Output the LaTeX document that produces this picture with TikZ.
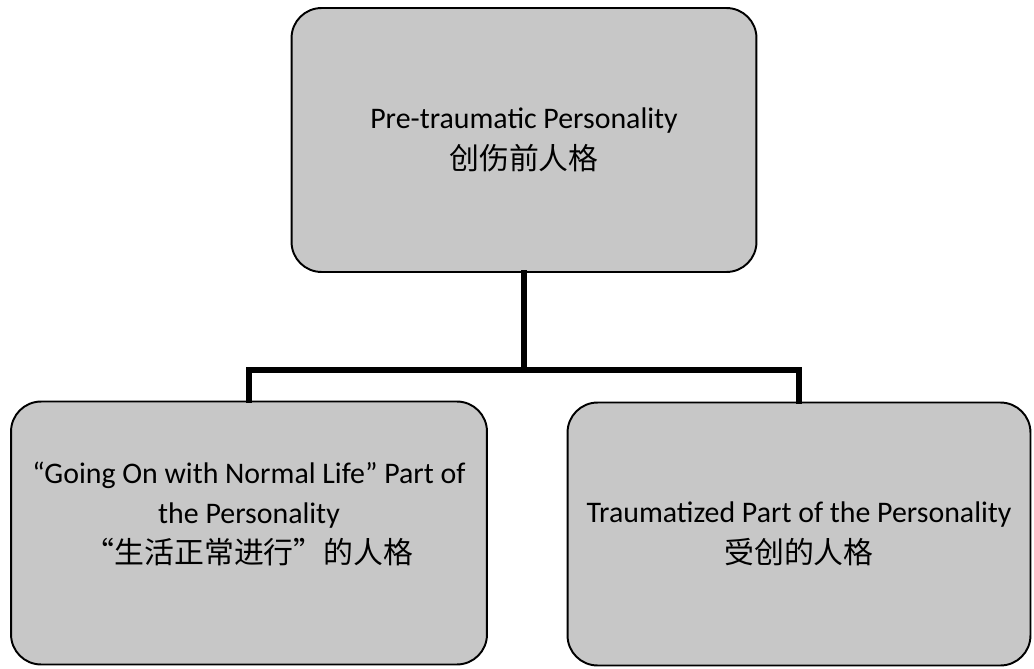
\documentclass[tikz,border=0pt]{standalone}
\usepackage{fontspec}
\setmainfont{Carlito}
\newfontfamily\cjk{Noto Sans CJK SC}
\usepackage{xcolor}
\usepackage{tikz}
\usetikzlibrary{positioning}

\begin{document}
\begin{tikzpicture}[x=0.02cm, y=-0.02cm, line width=1.1pt,
        box/.style={draw, rectangle, rounded corners=0.6cm, fill=black!22, align=center,
            font=\fontsize{17}{23}\selectfont, inner sep=2pt},
        link/.style={line width=3.2pt, line cap=rect}]
        \useasboundingbox (0,0) rectangle (1034,669);

        % Define the three boxes
        \node[box, minimum width=9.3cm, minimum height=5.28cm] (pre) at (524,140) {Pre-traumatic Personality\\{\cjk 创伤前人格}};
        \node[box, minimum width=9.52cm, minimum height=5.26cm] (normal) at (249,533) {“Going On with Normal Life” Part of\\the Personality\\{\cjk “生活正常进行”的人格}\\\mbox{}};
        \node[box, minimum width=9.26cm, minimum height=5.26cm] (trauma) at (799,534) {Traumatized Part of the Personality\\{\cjk 受创的人格}};

        % Tree connectors
        \coordinate (split) at (pre.south |- 0,370);
        \draw[link] (pre.south) -- (split);
        \draw[link] (normal.north) |- (split) -| (trauma.north);
    \end{tikzpicture}
\end{document}
